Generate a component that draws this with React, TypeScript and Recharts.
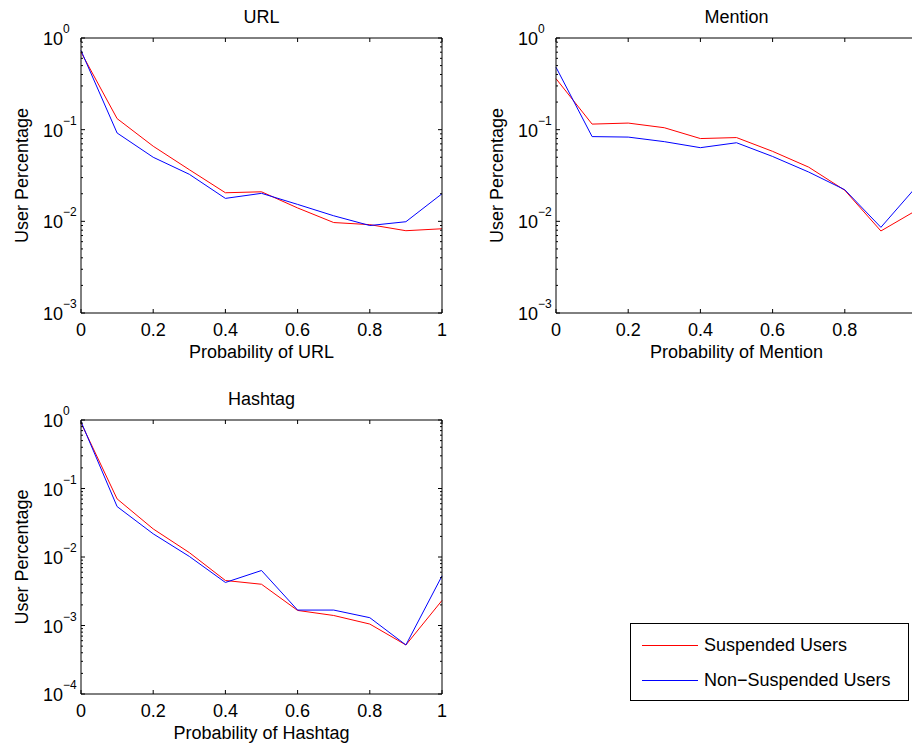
import React from "react";
import { LineChart, Line, XAxis, YAxis, Legend, Label } from "recharts";

const probabilities = [0, 0.1, 0.2, 0.3, 0.4, 0.5, 0.6, 0.7, 0.8, 0.9, 1];
const xTicks = [0, 0.2, 0.4, 0.6, 0.8, 1];

const urlSuspended = [0.7, 0.132, 0.066, 0.0366, 0.0205, 0.021, 0.014, 0.0097, 0.0092, 0.0079, 0.0083];
const urlNonSuspended = [0.73, 0.092, 0.05, 0.0326, 0.0178, 0.0202, 0.0153, 0.0115, 0.009, 0.0099, 0.02];

const mentionSuspended = [0.36, 0.115, 0.118, 0.105, 0.08, 0.082, 0.058, 0.039, 0.0218, 0.00785, 0.0133];
const mentionNonSuspended = [0.48, 0.084, 0.083, 0.074, 0.0636, 0.072, 0.051, 0.0345, 0.0221, 0.0086, 0.0243];

const hashtagSuspended = [0.91, 0.0705, 0.0257, 0.0116, 0.00454, 0.004, 0.00166, 0.0014, 0.00105, 0.00052, 0.00232];
const hashtagNonSuspended = [0.946, 0.0545, 0.0218, 0.0102, 0.00425, 0.00635, 0.00168, 0.00168, 0.0013, 0.00052, 0.0053];

const seriesNames = ["Suspended Users", "Non\u2212Suspended Users"];
const seriesColors = ["#ff0000", "#0000ff"];

const FONT = "'Liberation Sans', Arial, Helvetica, sans-serif";

// log axis ticks: every k*10^e, labels only on decades
function logTicks(minExp: number) {
    const ticks: number[] = [];
    for (let e = minExp; e < 0; e++) {
        for (let k = 1; k <= 9; k++) ticks.push(k * Math.pow(10, e));
    }
    ticks.push(1);
    return ticks;
}

const isDecade = (v: number) =>
    Math.abs(Math.log10(v) - Math.round(Math.log10(v))) < 1e-6;

const YTick = ({ x, y, payload, side }: any) => {
    const v = payload.value;
    const major = isDecade(v);
    const len = major ? 4 : 2;
    const dir = side === "left" ? 1 : -1;
    const exp = Math.round(Math.log10(v));
    return (
        <g>
            <line x1={x} x2={x + dir * len} y1={y} y2={y} stroke="#000" strokeWidth={1} />
            {major && side === "left" && (
                <text x={x - 38} y={y + 7} fontSize={18} fill="#000">
                    10
                    <tspan dy={-12} fontSize={12}>
                        {exp < 0 ? "\u2212" + -exp : String(exp)}
                    </tspan>
                </text>
            )}
        </g>
    );
};

const XTick = ({ x, y, payload, side }: any) => {
    const dir = side === "bottom" ? -1 : 1;
    return (
        <g>
            <line x1={x} x2={x} y1={y} y2={y + dir * 4} stroke="#000" strokeWidth={1} />
            {side === "bottom" && (
                <text x={x} y={y + 23} textAnchor="middle" fontSize={18} fill="#000">
                    {String(payload.value)}
                </text>
            )}
        </g>
    );
};

const YTitle = ({ viewBox }: any) => {
    const cx = viewBox.x + viewBox.width - 53;
    const cy = viewBox.y + viewBox.height / 2;
    return (
        <text
            x={cx}
            y={cy}
            transform={`rotate(-90, ${cx}, ${cy})`}
            textAnchor="middle"
            fontSize={18}
            fill="#000"
        >
            User Percentage
        </text>
    );
};

const LegendBox = ({ payload }: any) => {
    const items = [...(payload || [])].sort(
        (a: any, b: any) => seriesNames.indexOf(a.value) - seriesNames.indexOf(b.value)
    );
    return (
        <div
            style={{
                width: 279,
                height: 78,
                boxSizing: "border-box",
                border: "1px solid #000",
                background: "#fff",
                fontFamily: FONT,
                fontSize: 18,
                paddingTop: 4,
                color: "#000",
            }}
        >
            {items.map((entry: any) => (
                <div
                    key={entry.value}
                    style={{ display: "flex", alignItems: "center", height: 35 }}
                >
                    <span
                        style={{
                            display: "inline-block",
                            width: 56,
                            marginLeft: 11,
                            marginRight: 6,
                            borderTop: `1px solid ${entry.color}`,
                        }}
                    />
                    <span>{entry.value}</span>
                </div>
            ))}
        </div>
    );
};

interface PanelProps {
    title: string;
    xLabel: string;
    suspended: number[];
    nonSuspended: number[];
    minExp: number;
    left: number;
    top: number;
    width: number;
    height: number;
    margin: { top: number; right: number; bottom: number; left: number };
    legend?: boolean;
}

// axes are 1px thick so the margins set the plot box almost alone
const Panel: React.FC<PanelProps> = ({
    title,
    xLabel,
    suspended,
    nonSuspended,
    minExp,
    left,
    top,
    width,
    height,
    margin,
    legend,
}) => {
    const data = probabilities.map((p, i) => ({
        p,
        suspended: suspended[i],
        nonSuspended: nonSuspended[i],
    }));
    const yTicks = logTicks(minExp);
    const yDomain = [Math.pow(10, minExp), 1];

    return (
        <div style={{ position: "absolute", left, top }}>
            <LineChart width={width} height={height} data={data} margin={margin}>
                <XAxis
                    dataKey="p"
                    type="number"
                    domain={[0, 1]}
                    ticks={xTicks}
                    interval={0}
                    height={1}
                    tickSize={0}
                    tickMargin={0}
                    tickLine={false}
                    axisLine={{ stroke: "#000", strokeWidth: 1 }}
                    tick={(p: any) => <XTick {...p} side="bottom" />}
                >
                    <Label value={xLabel} position="bottom" offset={31} fill="#000" fontSize={18} />
                </XAxis>
                <XAxis
                    xAxisId="top"
                    orientation="top"
                    dataKey="p"
                    type="number"
                    domain={[0, 1]}
                    ticks={xTicks}
                    interval={0}
                    height={1}
                    tickSize={0}
                    tickMargin={0}
                    tickLine={false}
                    axisLine={{ stroke: "#000", strokeWidth: 1 }}
                    tick={(p: any) => <XTick {...p} side="top" />}
                >
                    <Label value={title} position="top" offset={14} fill="#000" fontSize={18} />
                </XAxis>
                <YAxis
                    type="number"
                    scale="log"
                    domain={yDomain}
                    allowDataOverflow
                    ticks={yTicks}
                    interval={0}
                    width={1}
                    tickSize={0}
                    tickMargin={0}
                    tickLine={false}
                    axisLine={{ stroke: "#000", strokeWidth: 1 }}
                    tick={(p: any) => <YTick {...p} side="left" />}
                >
                    <Label content={(p: any) => <YTitle viewBox={p.viewBox} />} />
                </YAxis>
                <YAxis
                    yAxisId="right"
                    orientation="right"
                    type="number"
                    scale="log"
                    domain={yDomain}
                    allowDataOverflow
                    ticks={yTicks}
                    interval={0}
                    width={1}
                    tickSize={0}
                    tickMargin={0}
                    tickLine={false}
                    axisLine={{ stroke: "#000", strokeWidth: 1 }}
                    tick={(p: any) => <YTick {...p} side="right" />}
                />
                <Line
                    type="linear"
                    dataKey="suspended"
                    name={seriesNames[0]}
                    stroke={seriesColors[0]}
                    strokeWidth={1}
                    dot={false}
                    isAnimationActive={false}
                />
                <Line
                    type="linear"
                    dataKey="nonSuspended"
                    name={seriesNames[1]}
                    stroke={seriesColors[1]}
                    strokeWidth={1}
                    dot={false}
                    isAnimationActive={false}
                />
                {legend && (
                    <Legend
                        layout="vertical"
                        align="center"
                        verticalAlign="middle"
                        wrapperStyle={{ left: 630, top: 243, width: 280, height: 78 }}
                        content={(p: any) => <LegendBox payload={p.payload} />}
                    />
                )}
            </LineChart>
        </div>
    );
};

export default function App() {
    return (
        <div
            style={{
                position: "relative",
                width: 912,
                height: 746,
                overflow: "hidden",
                background: "#fff",
                fontFamily: FONT,
            }}
        >
            <style>{`body{margin:0;overflow:hidden} svg text{font-family:${FONT}}`}</style>
            <Panel
                title="URL"
                xLabel="Probability of URL"
                suspended={urlSuspended}
                nonSuspended={urlNonSuspended}
                minExp={-3}
                left={0}
                top={0}
                width={460}
                height={370}
                margin={{ top: 37, left: 80, right: 17, bottom: 56 }}
            />
            {/* the right edge of this panel runs past the page, as in the source figure */}
            <Panel
                title="Mention"
                xLabel="Probability of Mention"
                suspended={mentionSuspended}
                nonSuspended={mentionNonSuspended}
                minExp={-3}
                left={460}
                top={0}
                width={460}
                height={370}
                margin={{ top: 37, left: 95, right: 2, bottom: 56 }}
            />
            <Panel
                title="Hashtag"
                xLabel="Probability of Hashtag"
                suspended={hashtagSuspended}
                nonSuspended={hashtagNonSuspended}
                minExp={-4}
                left={0}
                top={380}
                width={912}
                height={366}
                margin={{ top: 39, left: 80, right: 469, bottom: 51 }}
                legend
            />
        </div>
    );
}
